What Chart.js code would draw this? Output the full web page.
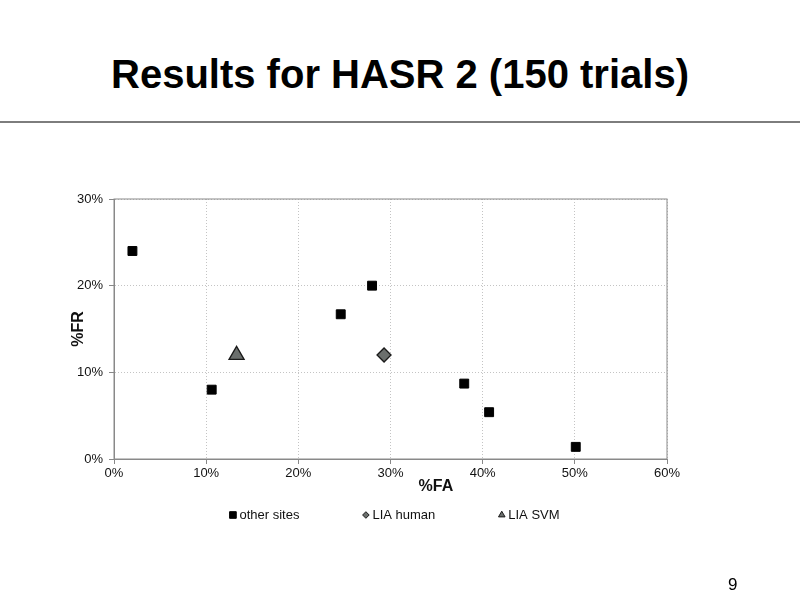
<!DOCTYPE html>
<html>
<head>
<meta charset="utf-8">
<script src="https://cdn.jsdelivr.net/npm/chart.js@4.4.0/dist/chart.umd.min.js"></script>
<style>
  html, body { margin: 0; padding: 0; background: #fff; }
  body { width: 800px; height: 599px; position: relative; overflow: hidden; font-family: "Liberation Sans", Arial, sans-serif; }
  #title { position: absolute; left: 0; top: 54px; width: 800px; text-align: center; font-weight: bold; font-size: 40px; line-height: 40px; color: #000; }
  #rule { position: absolute; left: 0; top: 121px; width: 800px; height: 2px; background: #7d7d7d; }
  #page { position: absolute; left: 728px; top: 576px; font-size: 17px; line-height: 17px; color: #000; }
  #chart { position: absolute; left: 0; top: 0; }
</style>
</head>
<body>
<div id="title">Results for HASR 2 (150 trials)</div>
<div id="rule"></div>
<canvas id="chart" width="800" height="599"></canvas>
<div id="page">9</div>
<script>
// values, in percent
const seriesNames = ['other sites', 'LIA human', 'LIA SVM'];
const otherSitesFA = [2, 10.6, 24.6, 28, 38, 40.7, 50.1];
const otherSitesFR = [24, 8, 16.7, 20, 8.7, 5.4, 1.4];
const liaHumanFA = [29.3];
const liaHumanFR = [12];
const liaSvmFA = [13.3];
const liaSvmFR = [12];
const xTicks = [0, 10, 20, 30, 40, 50, 60];
const yTicks = [0, 10, 20, 30];
const xTitle = '%FA';
const yTitle = '%FR';

const FONT = '"Liberation Sans", Arial, sans-serif';
const pts = (xs, ys) => xs.map((x, i) => ({ x, y: ys[i] }));

// frame round the plot, x title off-centre and the bottom legend
const slideExtras = {
  id: 'slideExtras',
  beforeDatasetsDraw(chart) {
    const { ctx, chartArea: a } = chart;
    ctx.save();
    ctx.strokeStyle = '#8a8a8a';
    ctx.lineWidth = 1;
    ctx.strokeRect(a.left, a.top, a.right - a.left, a.bottom - a.top);
    ctx.restore();
  },
  afterDraw(chart) {
    const { ctx, chartArea: a } = chart;
    ctx.save();
    ctx.fillStyle = '#111';
    ctx.font = 'bold 16px ' + FONT;
    ctx.textAlign = 'center';
    ctx.textBaseline = 'middle';
    ctx.fillText(xTitle, a.left + (a.right - a.left) * 0.582, a.bottom + 28);

    ctx.font = '13px ' + FONT;
    ctx.textAlign = 'left';
    const markW = 7, markGap = 3, itemGap = 63;
    const items = chart.data.datasets.map(ds => ({ ds, w: markW + markGap + ctx.measureText(ds.label).width }));
    const total = items.reduce((s, it) => s + it.w, 0) + itemGap * (items.length - 1);
    let x = (a.left + a.right) / 2 + 4 - total / 2;
    const y = a.bottom + 56;
    items.forEach(it => {
      ctx.fillStyle = it.ds.backgroundColor;
      ctx.strokeStyle = it.ds.borderColor;
      ctx.lineWidth = 1;
      Chart.helpers.drawPoint(ctx, { pointStyle: it.ds.pointStyle, radius: it.ds.legendRadius, borderWidth: 1 }, x + markW / 2, y);
      ctx.fillStyle = '#111';
      ctx.fillText(it.ds.label, x + markW + markGap, y);
      x += it.w + itemGap;
    });
    ctx.restore();
  }
};

new Chart(document.getElementById('chart').getContext('2d'), {
  type: 'scatter',
  data: {
    datasets: [
      {
        label: seriesNames[0],
        data: pts(otherSitesFA, otherSitesFR),
        pointStyle: 'rect',
        pointRadius: 6.3,
        backgroundColor: '#000',
        borderColor: '#000',
        borderWidth: 1,
        legendRadius: 4.7
      },
      {
        label: seriesNames[1],
        data: pts(liaHumanFA, liaHumanFR),
        pointStyle: 'rectRot',
        pointRadius: 7,
        backgroundColor: '#6b6f6d',
        borderColor: '#1a1a1a',
        borderWidth: 1.3,
        legendRadius: 3.3
      },
      {
        label: seriesNames[2],
        data: pts(liaSvmFA, liaSvmFR),
        pointStyle: 'triangle',
        pointRadius: 8.7,
        backgroundColor: '#6b6f6d',
        borderColor: '#1a1a1a',
        borderWidth: 1.3,
        legendRadius: 3.8
      }
    ]
  },
  options: {
    responsive: false,
    animation: false,
    layout: { padding: { left: 60, right: 133, top: 199, bottom: 100 } },
    plugins: {
      legend: { display: false },
      tooltip: { enabled: false }
    },
    scales: {
      x: {
        type: 'linear',
        min: xTicks[0],
        max: xTicks[xTicks.length - 1],
        afterBuildTicks: s => { s.ticks = xTicks.map(v => ({ value: v })); },
        afterFit: s => { s.height = 40; },
        grid: { color: '#c4c4c4', tickColor: '#888', tickLength: 5 },
        border: { color: '#888', width: 1, dash: [1, 2] },
        ticks: { color: '#111', font: { size: 13, family: FONT }, padding: 2, callback: v => v + '%' }
      },
      y: {
        type: 'linear',
        min: yTicks[0],
        max: yTicks[yTicks.length - 1],
        afterBuildTicks: s => { s.ticks = yTicks.map(v => ({ value: v })); },
        afterFit: s => { s.width = 54; },
        grid: { color: '#c4c4c4', tickColor: '#888', tickLength: 5 },
        border: { color: '#888', width: 1, dash: [1, 2] },
        ticks: { color: '#111', font: { size: 13, family: FONT }, padding: 6, callback: v => v + '%' },
        title: { display: true, text: yTitle, color: '#111', font: { size: 16, weight: 'bold', family: FONT }, padding: { top: 9, bottom: 0 } }
      }
    }
  },
  plugins: [slideExtras]
});
</script>
</body>
</html>
